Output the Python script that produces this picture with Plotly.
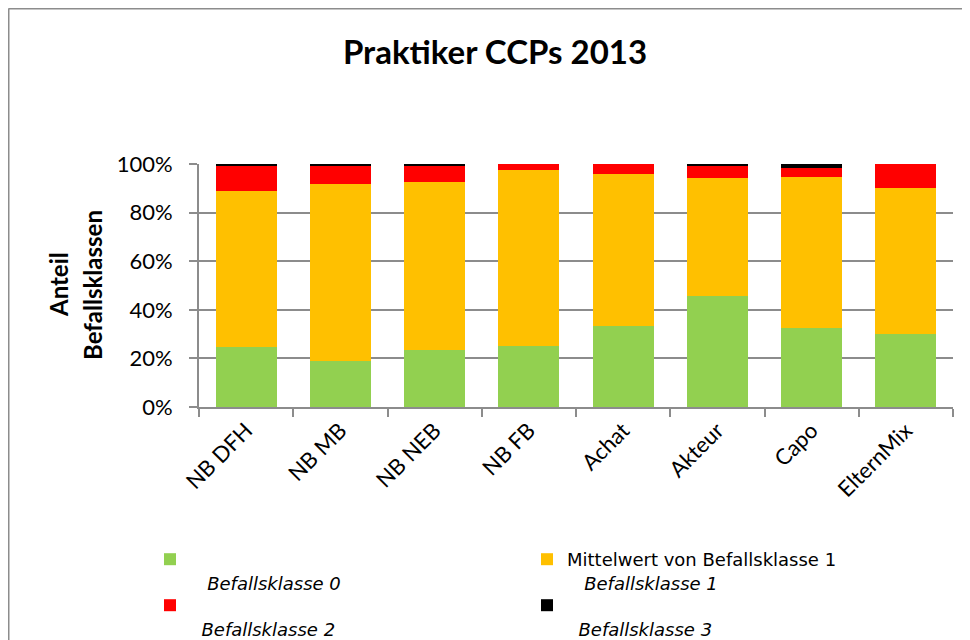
import plotly.graph_objects as go

categories = ["NB DFH", "NB MB", "NB NEB", "NB FB", "Achat", "Akteur", "Capo", "ElternMix"]
klasse0 = [24.7, 18.9, 23.6, 25.2, 33.5, 45.8, 32.4, 29.9]
klasse1 = [64.2, 72.7, 69.1, 72.5, 62.3, 48.6, 62.3, 60.2]
klasse2 = [10.4, 7.6, 6.5, 2.3, 4.2, 4.6, 3.5, 9.9]
klasse3 = [0.7, 0.8, 0.8, 0.0, 0.0, 1.0, 1.8, 0.0]
y_tick_vals = [0, 20, 40, 60, 80, 100]
y_tick_labels = ["0%", "20%", "40%", "60%", "80%", "100%"]

NB = "\u00a0"
series = [
    ("<br>" + NB * 3 + "<i>Befallsklasse 0</i>", klasse0, "#92D050", "legend"),
    ("Mittelwert von Befallsklasse 1<br>" + NB * 3 + "<i>Befallsklasse 1</i>", klasse1, "#FFC000", "legend"),
    ("<br>" + NB * 2 + "<i>Befallsklasse 2</i>", klasse2, "#FF0000", "legend2"),
    ("<br>" + NB * 2 + "<i>Befallsklasse 3</i>", klasse3, "#000000", "legend2"),
]

fig = go.Figure()
for name, vals, col, lg in series:
    fig.add_trace(go.Bar(x=categories, y=vals, name=name, legend=lg,
                         marker=dict(color=col, line=dict(width=0))))

# page offset of the figure inside the browser (default body margin)
OFF = 8
W, H = 970, 640
L, T = 191, 156
pw, ph = 754, 243
R, B = W - L - pw, H - T - ph

def px(page_x):
    return (page_x - OFF - L) / pw

def py(page_y):
    return (T + ph - (page_y - OFF)) / ph

legend_common = dict(orientation="h", xanchor="left", yanchor="top",
                     entrywidth=332, entrywidthmode="pixels", valign="top",
                     font=dict(size=18, family="DejaVu Sans"), bgcolor="rgba(0,0,0,0)",
                     traceorder="normal")

fig.update_layout(
    width=W, height=H,
    barmode="stack", bargap=0.353,
    plot_bgcolor="white", paper_bgcolor="white",
    margin=dict(l=L, r=R, t=T, b=B, autoexpand=False),
    font=dict(family="Lato", color="#000000"),
    title=dict(text="<b>Praktiker CCPs 2013</b>", x=(495 - OFF) / W, xanchor="center",
               y=1 - (52 - OFF) / H, yanchor="middle", font=dict(size=33, family="Lato")),
    xaxis=dict(showline=True, linecolor="#8C8C8C", linewidth=2, ticks="outside", ticklen=8,
               tickcolor="#8C8C8C", tickwidth=2, tickangle=-45, tickson="boundaries",
               tickfont=dict(size=22, family="Lato"), showgrid=False),
    yaxis=dict(range=[0, 100], tickvals=y_tick_vals, ticktext=y_tick_labels, showline=True,
               linecolor="#8C8C8C", linewidth=2, ticks="outside", ticklen=8, tickcolor="#8C8C8C",
               tickwidth=2, showgrid=True, gridcolor="#8C8C8C", gridwidth=2, zeroline=False,
               ticklabelstandoff=12, tickfont=dict(size=22, family="Lato")),
    legend=dict(x=px(150), y=py(541), **legend_common),
    legend2=dict(x=px(150), y=py(587), **legend_common),
    showlegend=True,
)

for txt, xpage in [("<b>Anteil</b>", 58), ("<b>Befallsklassen</b>", 92)]:
    fig.add_annotation(text=txt, textangle=-90, xref="paper", yref="paper",
                       x=px(xpage), y=py(285), showarrow=False, font=dict(size=24, family="Lato"),
                       xanchor="center", yanchor="middle")

fig.add_shape(type="line", xref="paper", yref="paper", x0=px(8.5), x1=px(990), y0=py(8.5), y1=py(8.5),
              line=dict(color="#8C8C8C", width=2))
fig.add_shape(type="line", xref="paper", yref="paper", x0=px(8.5), x1=px(8.5), y0=py(8.5), y1=py(700),
              line=dict(color="#8C8C8C", width=2))

fig.write_html("out.html")
